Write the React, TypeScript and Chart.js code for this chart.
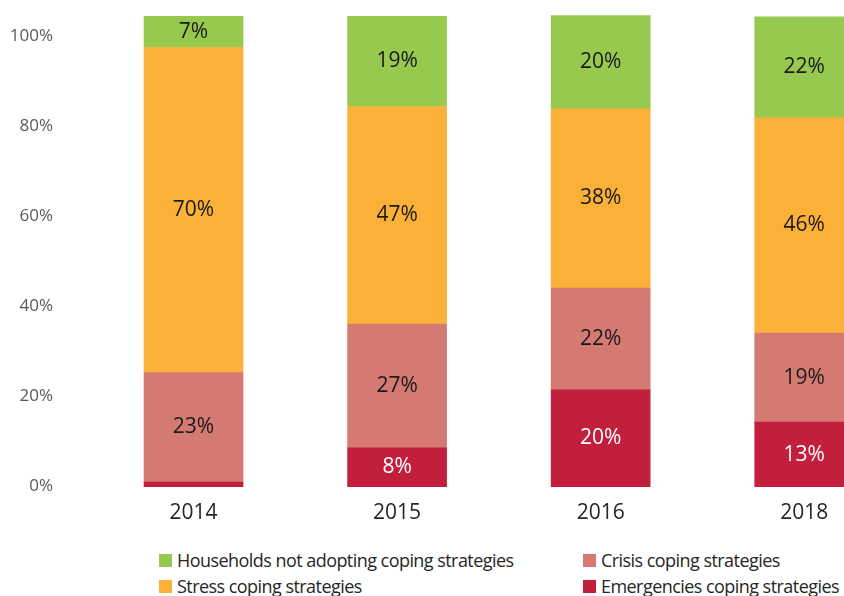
import React, { useEffect, useRef } from "react";
import { Chart, registerables } from "chart.js";

Chart.register(...registerables);

const categories = ["2014", "2015", "2016", "2018"];

// bar segment heights in axis units
const householdsValues = [6.9, 20.0, 20.7, 22.4];
const stressValues = [72.2, 48.3, 39.8, 47.8];
const crisisValues = [24.3, 27.5, 22.6, 19.8];
const emergencyValues = [1.1, 8.7, 21.6, 14.4];

// printed labels on the segments
const householdsLabels = [7, 19, 20, 22];
const stressLabels = [70, 47, 38, 46];
const crisisLabels = [23, 27, 22, 19];
const emergencyLabels: (number | null)[] = [null, 8, 20, 13];

const yTicks = [0, 20, 40, 60, 80, 100];

const seriesNames = [
  "Emergencies coping strategies",
  "Crisis coping strategies",
  "Stress coping strategies",
  "Households not adopting coping strategies",
];
const colors = ["#C21F3C", "#D57A72", "#FBB138", "#97C94F"];
const labelColors = ["#ffffff", "#1a1a1a", "#1a1a1a", "#1a1a1a"];

const FONT = '"Open Sans", "Noto Sans", sans-serif';

const segmentLabels = {
  id: "segmentLabels",
  afterDatasetsDraw(chart: any) {
    const ctx = chart.ctx;
    ctx.save();
    ctx.font = `21px ${FONT}`;
    ctx.textAlign = "center";
    ctx.textBaseline = "middle";
    chart.data.datasets.forEach((ds: any, i: number) => {
      const meta = chart.getDatasetMeta(i);
      meta.data.forEach((bar: any, j: number) => {
        const lab = ds.printed[j];
        if (lab === null || lab === undefined) return;
        const { x, y, base } = bar.getProps(["x", "y", "base"], true);
        ctx.fillStyle = ds.labelColor;
        ctx.fillText(lab + "%", x, (y + base) / 2);
      });
    });
    ctx.restore();
  },
};

export default function App() {
  const ref = useRef<HTMLCanvasElement>(null);
  useEffect(() => {
    if (!ref.current) return;
    const values = [emergencyValues, crisisValues, stressValues, householdsValues];
    const printed = [emergencyLabels, crisisLabels, stressLabels, householdsLabels];
    const chart = new Chart(ref.current, {
      type: "bar",
      data: {
        labels: categories,
        datasets: values.map((v, i) => ({
          label: seriesNames[i],
          data: v,
          backgroundColor: colors[i],
          borderWidth: 0,
          barThickness: 99,
          printed: printed[i],
          labelColor: labelColors[i],
        })) as any,
      },
      options: {
        responsive: false,
        animation: false,
        devicePixelRatio: 1,
        layout: { padding: 0 },
        plugins: {
          legend: { display: false },
          tooltip: { enabled: false },
        },
        scales: {
          x: {
            stacked: true,
            grid: { display: false, drawTicks: false },
            border: { display: false },
            ticks: {
              padding: 13,
              color: "#262626",
              font: { family: FONT, size: 21 },
              maxRotation: 0,
            },
            afterFit: (s: any) => {
              s.height = 53;
            },
          },
          y: {
            stacked: true,
            min: 0,
            max: 108.15,
            grid: { display: false, drawTicks: false },
            border: { display: false },
            ticks: {
              padding: 38.75,
              labelOffset: -1,
              color: "#595959",
              font: { family: FONT, size: 17 },
              callback: (v: any) => v + "%",
            },
            afterBuildTicks: (s: any) => {
              s.ticks = yTicks.map((v) => ({ value: v }));
            },
            afterFit: (s: any) => {
              s.width = 91.75;
              s.paddingTop = 0;
              s.paddingBottom = 0;
            },
          },
        },
      },
      plugins: [segmentLabels],
    });
    return () => chart.destroy();
  }, []);

  const legendItems = [
    { name: seriesNames[3], color: colors[3], left: 159, top: 551 },
    { name: seriesNames[1], color: colors[1], left: 583, top: 551 },
    { name: seriesNames[2], color: colors[2], left: 159, top: 577 },
    { name: seriesNames[0], color: colors[0], left: 583, top: 577 },
  ];

  return (
    <div
      style={{
        position: "fixed",
        left: 0,
        top: 0,
        width: 844,
        height: 596,
        overflow: "hidden",
        background: "#ffffff",
      }}
    >
      <canvas
        ref={ref}
        width={906}
        height={540}
        style={{ position: "absolute", left: 0, top: 0, width: 906, height: 540 }}
      />
      {legendItems.map((it) => (
        <div
          key={it.name}
          style={{
            position: "absolute",
            left: it.left,
            top: it.top,
            height: 18,
            display: "flex",
            alignItems: "center",
            whiteSpace: "nowrap",
            fontFamily: FONT,
            fontSize: 18,
            lineHeight: "18px",
            letterSpacing: "-0.55px",
            color: "#262626",
          }}
        >
          <span
            style={{
              display: "inline-block",
              width: 13,
              height: 13,
              background: it.color,
              marginRight: 5,
            }}
          />
          <span>{it.name}</span>
        </div>
      ))}
    </div>
  );
}
